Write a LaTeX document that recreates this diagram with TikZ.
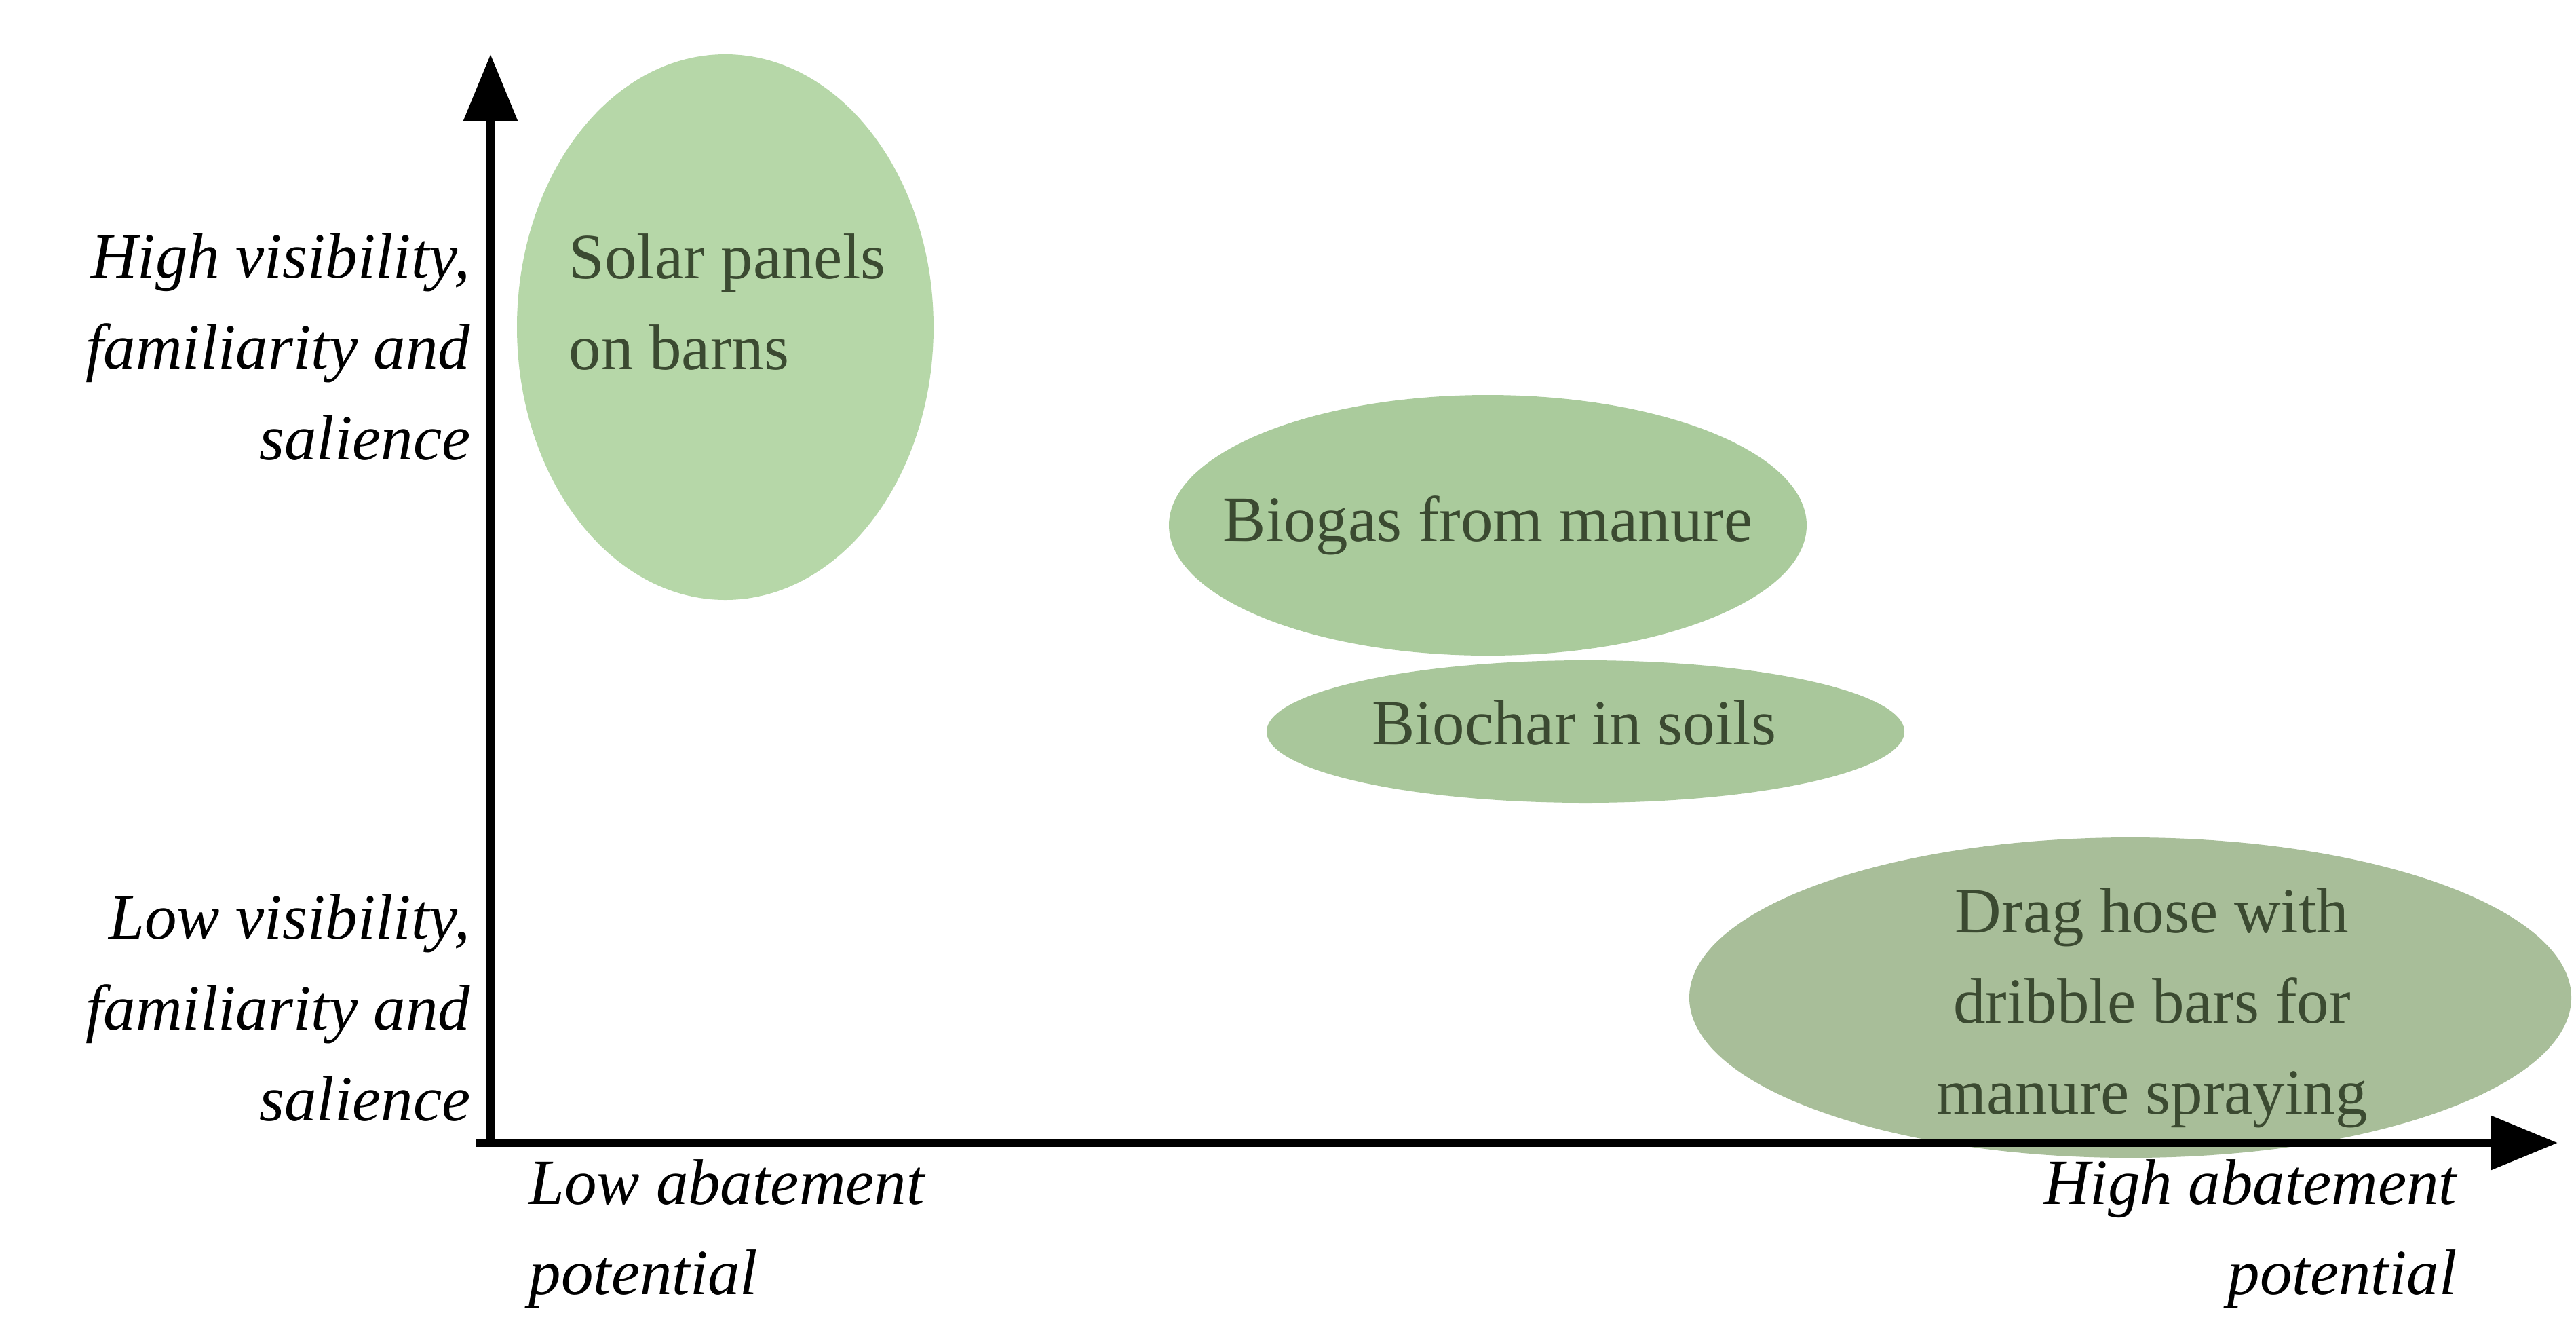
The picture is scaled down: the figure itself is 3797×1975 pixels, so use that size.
\documentclass[tikz,border=0pt]{standalone}
\usepackage{fontspec}
\setmainfont{Liberation Serif}
\begin{document}
\begin{tikzpicture}[x=0.01cm,y=-0.01cm,
  lab/.style={font=\fontsize{27}{38}\selectfont\itshape, inner sep=0pt},
  bub/.style={draw=none, ellipse},
  btxt/.style={font=\fontsize{27}{38}\selectfont, text=txtc, inner sep=0pt, align=center},
  axis/.style={line width=3.4pt, -{Triangle[length=28pt,width=22pt]}}]
\usetikzlibrary{arrows.meta}
\definecolor{c1}{HTML}{B6D7A8}
\definecolor{c2}{HTML}{AACB9C}
\definecolor{c3}{HTML}{A9C79B}
\definecolor{c4}{HTML}{A8BE99}
\definecolor{txtc}{HTML}{3B4A31}
\useasboundingbox (0,0) rectangle (3797,1975);
\fill[c1] (1069,482) ellipse [x radius=307, y radius=402];
\fill[c2] (2193,774) ellipse [x radius=470, y radius=192];
\fill[c3] (2337,1078) ellipse [x radius=470, y radius=105];
\fill[c4] (3140,1470) ellipse [x radius=650, y radius=236];
\coordinate (o) at (723,1684);
\coordinate (yt) at (723,80);
\coordinate (xt) at (3770,1684);
\draw[axis] (o) -- (yt);
\draw[axis] ([xshift=-6]o) -- (xt);
\node[btxt, align=left, anchor=west] (s) at (838,445) {Solar panels\\on barns};
\node[btxt] (b) at (2193,774) {Biogas from manure};
\node[btxt] (c) at (2320,1065) {Biochar in soils};
\node[btxt] (d) at (3172,1485) {Drag hose with\\dribble bars for\\manure spraying};
\node[lab, align=right, anchor=east] (h) at (694,511) {High visibility,\\familiarity and\\salience};
\node[lab, align=right, anchor=east] (l) at (694,1485) {Low visibility,\\familiarity and\\salience};
\node[lab, align=left, anchor=west] (la) at (779,1818) {Low abatement\\potential};
\node[lab, align=right, anchor=east] (ha) at (3622,1818) {High abatement\\potential};
\end{tikzpicture}
\end{document}
